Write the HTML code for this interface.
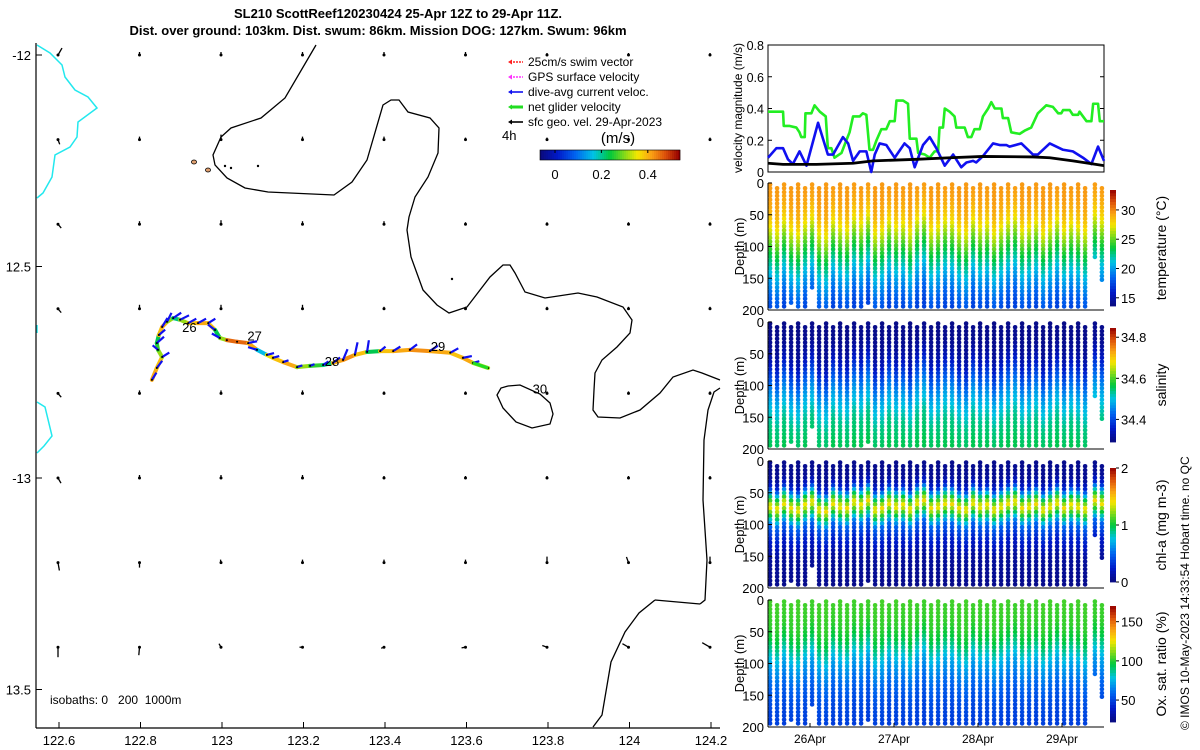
<!DOCTYPE html>
<html><head><meta charset="utf-8">
<style>
html,body{margin:0;padding:0;background:#fff;}
svg{display:block;font-family:"Liberation Sans","DejaVu Sans",sans-serif;}
</style></head>
<body>
<svg id="root" width="1200" height="750" viewBox="0 0 1200 750" xmlns="http://www.w3.org/2000/svg">
<text x="398" y="18" text-anchor="middle" font-size="13" font-weight="bold">SL210 ScottReef120230424 25-Apr 12Z to 29-Apr 11Z.</text>
<text x="378" y="35" text-anchor="middle" font-size="13" font-weight="bold">Dist. over ground: 103km. Dist. swum: 86km. Mission DOG: 127km. Swum: 96km</text>
<g id="map"></g>
<g id="vel"></g>
<g id="prof"></g>
<text transform="translate(1189,730) rotate(-90)" font-size="12">© IMOS 10-May-2023 14:33:54 Hobart time. no QC</text>
</svg>
<script>
// ---------- DATA ----------
const trackLon=[122.828,122.840,122.853,122.843,122.840,122.845,122.853,122.865,122.880,122.897,122.917,122.941,122.966,122.983,122.995,123.012,123.037,123.064,123.086,123.110,123.125,123.150,123.184,123.216,123.248,123.272,123.297,123.326,123.356,123.388,123.420,123.461,123.510,123.560,123.591,123.616,123.653];
const trackLat=[-12.768,-12.740,-12.714,-12.697,-12.681,-12.662,-12.643,-12.631,-12.622,-12.626,-12.634,-12.634,-12.634,-12.650,-12.669,-12.674,-12.678,-12.681,-12.697,-12.709,-12.716,-12.726,-12.738,-12.735,-12.733,-12.728,-12.721,-12.709,-12.702,-12.700,-12.700,-12.697,-12.700,-12.704,-12.716,-12.728,-12.740];
const trackSpeed=[0.40,0.38,0.30,0.25,0.22,0.38,0.40,0.30,0.20,0.30,0.38,0.40,0.38,0.22,0.30,0.45,0.45,0.40,0.15,0.35,0.38,0.40,0.30,0.25,0.20,0.40,0.42,0.38,0.22,0.38,0.40,0.42,0.40,0.38,0.40,0.30,0.22];
const curU=[0.05,0.06,0.08,-0.06,0.08,0.07,0.06,0.05,0.09,0.1,0.09,0.09,0.08,-0.08,-0.09,0.0,0.0,0.1,-0.1,0.08,0.07,0.06,0.06,0.05,0.06,0.08,0.05,0.03,0.02,0.06,0.08,0.08,0.09,0.09,0.1,0.07,0.0];
const curV=[0.08,0.08,0.05,0.05,0.07,0.06,0.1,0.1,0.06,0.05,0.05,0.05,0.05,0.06,0.05,0.0,0.0,0.02,0.03,0.02,0.02,0.02,0.02,0.02,0.04,0.06,0.12,0.14,0.13,0.05,0.05,0.06,0.06,0.05,0.02,0.02,0.0];
const dayLon=[122.92,123.08,123.27,123.53,123.78];
const dayLat=[-12.655,-12.675,-12.735,-12.70,-12.80];
const dayLabels=["26","27","28","29","30"];
const gridLon=[122.6,122.8,123.0,123.2,123.4,123.6,123.8,124.0,124.2];
const gridLat=[-12.0,-12.2,-12.4,-12.6,-12.8,-13.0,-13.2,-13.4];
const geoAngleRow=[[-60,-90,-90,-90,-90,-90,-90,-90,-90],[70,-90,-90,-90,-90,-90,-90,-90,-90],[50,-90,-90,-90,-90,-90,-90,-90,-90],[50,-90,-90,-90,-90,-90,-90,-90,-90],[50,-90,-90,-90,-90,-90,-90,-90,-90],[60,-90,-90,-90,-90,-90,-90,-90,-90],[80,90,-100,-90,-90,-90,-90,-110,-90],[90,95,-120,180,160,170,200,210,210]];
const geoLen=[[8,3,3,3,3,3,2,2,2],[5,3,5,3,3,2,2,2,2],[5,3,4,3,3,2,2,2,2],[5,4,4,4,2,2,2,2,2],[5,3,3,3,2,2,2,2,2],[6,3,3,3,2,2,2,2,2],[8,5,3,3,3,3,6,6,6],[10,8,4,3,3,4,5,7,9]];
const mapXTicks=[122.6,122.8,123,123.2,123.4,123.6,123.8,124,124.2];
const mapXLabels=["122.6","122.8","123","123.2","123.4","123.6","123.8","124","124.2"];
const mapYTicks=[-12,-12.5,-13,-13.5];
const mapYLabels=["-12","12.5","-13","13.5"];

const greenH=[0,4.3,4.5,6.2,8.1,9.0,9.5,10.5,10.7,12.4,13.3,14.8,16.5,17.1,18.1,19.0,21.0,22.4,23.3,24.3,26.2,27.1,28.1,29.0,30.0,31.0,32.4,33.8,34.8,36.2,36.7,38.6,40.0,40.5,42.4,42.9,44.8,46.2,47.6,48.6,49.0,50.0,50.5,51.9,53.3,53.8,56.2,57.1,58.1,59.0,60.5,61.4,62.9,63.8,64.8,66.7,67.1,68.6,69.5,71.9,73.3,75.2,77.1,79.5,81.4,82.9,83.8,84.3,86.2,87.1,88.6,89.0,91.0,92.4,92.9,94.3,94.8,96];
const greenV=[.38,.38,.29,.29,.28,.25,.22,.22,.37,.37,.42,.38,.35,.15,.15,.09,.12,.2,.25,.35,.35,.37,.36,.14,.14,.2,.27,.27,.32,.32,.45,.45,.43,.21,.21,.12,.11,.09,.13,.13,.28,.28,.4,.38,.35,.28,.28,.22,.22,.27,.27,.35,.4,.44,.4,.4,.34,.34,.25,.24,.26,.28,.37,.42,.41,.37,.37,.39,.39,.36,.36,.38,.32,.32,.43,.43,.32,.32];
const blueH=[0,2.4,4.3,5.7,7.1,9.0,11.0,14.3,17.1,18.6,21.4,22.9,24.3,26.2,28.1,29.5,30.5,31.9,33.8,36.2,39.0,40.5,41.9,44.3,46.2,48.1,50.5,52.9,55.2,56.7,58.6,59.5,61.4,64.3,66.2,68.1,69.0,72.4,75.7,77.1,80.5,84.3,87.1,90.0,92.4,94.3,96];
const blueV=[.09,.15,.15,.08,.05,.13,.04,.31,.11,.11,.22,.18,.07,.13,.13,0,.11,.18,.17,.09,.18,.15,.03,.17,.22,.15,.04,.11,.03,.06,.07,.06,.1,.18,.17,.17,.16,.18,.11,.11,.18,.14,.13,.09,.05,.16,.07];
const blackH=[0,4.3,13.8,24.3,30,42.4,52,61.4,75.7,80.5,87.1,96];
const blackV=[.055,.048,.048,.055,.07,.08,.09,.098,.095,.09,.07,.04];
const velTicks=[0,0.2,0.4,0.6,0.8];
const velTickLabels=["0","0.2","0.4","0.6","0.8"];

const colHours=[0.6,2.6,4.6,6.6,8.6,10.6,12.6,14.6,16.6,18.6,20.6,22.6,24.6,26.6,28.6,30.6,32.6,34.6,36.6,38.6,40.6,42.6,44.6,46.6,48.6,50.6,52.6,54.6,56.6,58.6,60.6,62.6,64.6,66.6,68.6,70.6,72.6,74.6,76.6,78.6,80.6,82.6,84.6,86.6,88.6,90.6,93.4,95.4];
const colMaxDepth=[195,195,195,190,195,195,165,195,195,195,195,195,195,195,190,195,195,195,195,195,195,195,195,195,195,195,195,195,195,195,195,195,195,195,195,195,195,195,195,195,195,195,195,195,195,195,115,155];
const colShift=[0,8,-10,5,12,-5,-15,10,15,-10,0,5,-15,-5,-20,10,5,-10,0,-5,8,-12,-20,5,0,-10,-8,5,10,-12,0,-5,10,0,-10,-15,5,0,-8,10,0,-12,5,-5,0,8,-20,-10];
const timeTicks=[12,36,60,84];
const timeLabels=["26Apr","27Apr","28Apr","29Apr"];
const tempDepth=[0,20,40,60,80,100,125,150,175,200];
const tempVal=[29.6,29.5,29.0,28.0,26.2,24.3,22.2,20.2,18.6,17.4];
// salinity as excess above 34 psu
const salDepth=[0,40,60,80,100,120,140,160,200];
const salExcess=[0.30,0.31,0.34,0.39,0.44,0.48,0.51,0.54,0.56];
const chlDepth=[0,25,40,55,70,85,100,125,150,200];
const chlVal=[0.05,0.08,0.3,0.95,1.45,0.95,0.5,0.25,0.1,0.04];
const oxDepth=[0,40,60,80,100,125,150,175,200];
const oxVal=[104,102,96,84,72,62,55,51,49];

// ---------- helpers ----------
const NS="http://www.w3.org/2000/svg";
function mk(tag,attrs,parent){const e=document.createElementNS(NS,tag);for(const k in attrs)e.setAttribute(k,attrs[k]);parent.appendChild(e);return e;}
const stops=[[0,10,10,125],[0.12,0,25,200],[0.25,0,100,240],[0.38,0,195,230],[0.5,0,200,60],[0.62,150,220,20],[0.7,245,230,0],[0.8,250,160,20],[0.9,220,80,10],[1,150,0,0]];
function cmap(t){
  t=Number(t);if(!(t>0))t=0;if(t>1)t=1;
  for(let i=1;i<stops.length;i++){
    if(t<=stops[i][0]){const a=stops[i-1],b=stops[i],f=(t-a[0])/(b[0]-a[0]);
      return 'rgb('+Math.round(a[1]+f*(b[1]-a[1]))+','+Math.round(a[2]+f*(b[2]-a[2]))+','+Math.round(a[3]+f*(b[3]-a[3]))+')';}
  }
  return 'rgb(150,0,0)';
}
function interpNorm(xs,ys,x,lo,hi){
  const n=xs.length;let k=n-1;
  for(let i=1;i<n;i++){if(x<=xs[i]){k=i;break;}}
  const x0=xs[k-1],x1=xs[k];
  let f=(x-x0)/(x1-x0);if(f<0)f=0;if(f>1)f=1;
  const a=(ys[k-1]-lo)/(hi-lo),b=(ys[k]-lo)/(hi-lo);
  return a+f*(b-a);
}

// ---------- MAP ----------
const map=document.getElementById('map');
const lonX=lon=>59+(lon-122.6)*407.5;
const latY=lat=>55+(-12-lat)*423;
function poly(pts,stroke,name,w){const p=mk('polyline',{points:pts.map(q=>q.join(',')).join(' '),fill:'none',stroke:stroke,'stroke-width':w||1.3},map);return p;}
poly([[316,45],[285,98],[261,118],[231,128],[221,137],[213,155],[215,165],[227,178],[245,188],[268,192],[334,195],[352,182],[367,160],[383,105],[391,100],[399,100],[408,112],[430,118],[439,128],[438,153],[428,177],[415,197],[409,217],[407,230],[411,257],[423,290],[437,305],[449,313],[467,307],[490,277],[503,265],[510,265],[515,273],[525,292],[545,298],[578,293],[597,297],[623,307],[632,320],[630,333],[617,347],[602,360],[595,373],[594,390],[593,410],[598,417],[620,418],[640,410],[660,393],[673,377],[693,370],[702,373],[720,380]],'#000','isobath-200m');
poly([[720,388],[714,392],[708,410],[704,440],[703,500],[707,560],[705,600],[700,604]],'#000','isobath-200m-east');
poly([[655,600],[639,613],[625,632],[611,662],[602,715],[593,727]],'#000','isobath-1000m');
poly([[655,600],[700,604]],'#000','isobath-link');
poly([[508,386],[520,385],[540,394],[550,403],[553,414],[550,424],[532,428],[516,422],[503,408],[497,395],[501,388],[508,386]],'#000','reef-contour');
poly([[37,45],[50,53],[62,65],[65,77],[75,90],[88,97],[97,108],[78,122],[77,137],[70,147],[55,155],[52,177],[43,193],[37,198]],'#22e8ee','isobath-0m-north',1.5);
poly([[37,402],[45,407],[52,436],[44,446],[37,453]],'#22e8ee','isobath-0m-south',1.5);
poly([[37,325],[37,333]],'#22e8ee','isobath-0m-mid',1.5);
[[194,162,'#e0a070'],[208,170,'#e0a070']].forEach(c=>{const e=mk('ellipse',{cx:c[0],cy:c[1],rx:2.5,ry:2,fill:c[2],stroke:'#000','stroke-width':0.8},map);});
[[225,166],[231,168],[258,166],[452,279]].forEach(c=>{const e=mk('circle',{cx:c[0],cy:c[1],r:1.2,fill:'#000'},map);});
for(let r=0;r<gridLat.length;r++)for(let c=0;c<gridLon.length;c++){
  const x=lonX(gridLon[c])-1,y=latY(gridLat[r]);const a=geoAngleRow[r][c]*Math.PI/180,L=geoLen[r][c];
  const g=mk('g',{},map);
  mk('line',{x1:x,y1:y,x2:x+L*Math.cos(a),y2:y+L*Math.sin(a),stroke:'#000','stroke-width':1.3},g);
  mk('circle',{cx:x,cy:y,r:1.5,fill:'#000'},g);
}
const tg=mk('g',{},map);
for(let i=0;i<trackLon.length-1;i++){
  const x=lonX(trackLon[i]),y=latY(trackLat[i]);
  const l=mk('line',{x1:x,y1:y,x2:lonX(trackLon[i+1]),y2:latY(trackLat[i+1]),stroke:cmap(trackSpeed[i]/0.6+0.12),'stroke-width':4,'stroke-linecap':'round'},tg);
}
for(let i=0;i<trackLon.length;i++){
  const x=lonX(trackLon[i]),y=latY(trackLat[i]);
  const v=mk('line',{x1:x,y1:y,x2:x+curU[i]*90,y2:y-curV[i]*90,stroke:'#1010f0','stroke-width':2.2},tg);
  
  const d=mk('circle',{cx:x,cy:y,r:1,fill:'#000'},tg);
}
const endN=trackLon.length-1;
const gv=mk('line',{x1:lonX(trackLon[endN-1]),y1:latY(trackLat[endN-1]),x2:lonX(trackLon[endN]),y2:latY(trackLat[endN]),stroke:'#22dd22','stroke-width':3},tg);

for(let i=0;i<dayLabels.length;i++){const t=mk('text',{x:lonX(dayLon[i]),y:latY(dayLat[i]),'font-size':13,'text-anchor':'middle'},map);t.textContent=dayLabels[i];}
mk('line',{x1:36,y1:43,x2:36,y2:728,stroke:'#000','stroke-width':1.2},map);
mk('line',{x1:36,y1:728,x2:720,y2:728,stroke:'#000','stroke-width':1.2},map);
for(let i=0;i<mapXTicks.length;i++){const x=lonX(mapXTicks[i]);mk('line',{x1:x,y1:728,x2:x,y2:722,stroke:'#000'},map);const t=mk('text',{x:x,y:745,'font-size':13,'text-anchor':'middle'},map);t.textContent=mapXLabels[i];}
for(let i=0;i<mapYTicks.length;i++){const y=latY(mapYTicks[i]);mk('line',{x1:36,y1:y,x2:42,y2:y,stroke:'#000'},map);const t=mk('text',{x:31,y:y+5,'font-size':13,'text-anchor':'end'},map);t.textContent=mapYLabels[i];}
const iso=mk('text',{x:50,y:704,'font-size':12},map);iso.textContent='isobaths: 0\u00a0\u00a0\u00a0200\u00a0\u00a01000m';
const leg=mk('g',{},map);
const legItems=[['25cm/s swim vector','#ff2020'],['GPS surface velocity','#ff30ff'],['dive-avg current veloc.','#1010f0'],['net glider velocity','#22dd22'],['sfc geo. vel. 29-Apr-2023','#000']];
legItems.forEach((it,i)=>{const y=66+i*15;const g=mk('g',{},leg);
 mk('line',{x1:510,y1:y-4,x2:510+13,y2:y-4,stroke:it[1],'stroke-width':i==3?3:1.6,'stroke-dasharray':i<2?'2 1':'none'},g);
 mk('path',{d:`M${508},${y-4} l4,-2.5 l0,5 z`,fill:it[1]},g);
 const t=mk('text',{x:528,y:y,'font-size':12},g);t.textContent=it[0];});
const h4=mk('text',{x:502,y:140,'font-size':13},map);h4.textContent='4h';
const ms=mk('text',{x:618,y:143,'font-size':15,'text-anchor':'middle'},map);ms.textContent='(m/s)';
const cbg=mk('g',{},map);
for(let i=0;i<70;i++)mk('rect',{x:540+i*2,y:150,width:2.2,height:10,fill:cmap(i/69)},cbg);
mk('rect',{x:540,y:150,width:140,height:10,fill:'none',stroke:'#000','stroke-width':0.6},cbg);
[[0,'0'],[0.2,'0.2'],[0.4,'0.4']].forEach(a=>{const x=555+a[0]*232;mk('line',{x1:x,y1:150,x2:x,y2:153,stroke:'#000'},cbg);const t=mk('text',{x:x,y:179,'font-size':13,'text-anchor':'middle'},cbg);t.textContent=a[1];});

// ---------- VELOCITY PANEL ----------
const vel=document.getElementById('vel');
const hX=h=>768+h*3.5;
const vY=v=>172-v/0.8*127;
mk('rect',{x:768,y:45,width:336,height:127,fill:'none',stroke:'#000','stroke-width':1},vel);
function vline(H,V,c,name,w){const p=mk('polyline',{points:H.map((h,i)=>hX(h)+','+vY(V[i])).join(' '),fill:'none',stroke:c,'stroke-width':w,'stroke-linejoin':'round'},vel);}
vline(greenH,greenV,'#22ee22','net-glider-speed-line',2.6);
vline(blueH,blueV,'#1010f0','dive-avg-current-line',2.6);
vline(blackH,blackV,'#000','geo-velocity-line',2.8);
velTicks.forEach((v,i)=>{const y=vY(v);mk('line',{x1:768,y1:y,x2:772,y2:y,stroke:'#000'},vel);mk('line',{x1:1104,y1:y,x2:1100,y2:y,stroke:'#000'},vel);const t=mk('text',{x:764,y:y+5,'font-size':12.5,'text-anchor':'end'},vel);t.textContent=velTickLabels[i];});
const vt=mk('text',{transform:'translate(742,108) rotate(-90)','font-size':12,'text-anchor':'middle'},vel);vt.textContent='velocity magnitude (m/s)';

// ---------- PROFILE PANELS ----------
const prof=document.getElementById('prof');
const panels=[
 {name:'temperature',top:183,depths:tempDepth,vals:tempVal,lo:13.6,hi:33.4,cbTop:190,cbBot:306,ticks:[15,20,25,30],labels:['15','20','25','30'],title:'temperature (°C)',shift:1},
 {name:'salinity',top:322,depths:salDepth,vals:salExcess,lo:0.29,hi:0.845,cbTop:328,cbBot:442,ticks:[0.4,0.6,0.8],labels:['34.4','34.6','34.8'],title:'salinity',shift:1},
 {name:'chlorophyll',top:461,depths:chlDepth,vals:chlVal,lo:0,hi:2,cbTop:468,cbBot:582,ticks:[0,1,2],labels:['0','1','2'],title:'chl-a (mg m-3)',shift:0.5},
 {name:'oxygen',top:600,depths:oxDepth,vals:oxVal,lo:22,hi:170,cbTop:606,cbBot:722,ticks:[50,100,150],labels:['50','100','150'],title:'Ox. sat. ratio (%)',shift:0.8}
];
panels.forEach((P,pi)=>{
 const g=mk('g',{},prof);
 const H=127;const dY=d=>P.top+d/200*H;
 for(let c=0;c<colHours.length;c++){
  const x=hX(colHours[c]);const start=(c%2==0)?0:6;
  for(let d=start;d<=colMaxDepth[c];d+=6){
   let dd=d-colShift[c]*P.shift;if(dd<0)dd=0;
   const tn=interpNorm(P.depths,P.vals,dd,P.lo,P.hi);
   mk('circle',{cx:x,cy:dY(d)+1.5,r:2.3,fill:cmap(tn)},g);
  }
 }
 mk('line',{x1:768,y1:P.top,x2:768,y2:P.top+H,stroke:'#000'},g);
 mk('line',{x1:768,y1:P.top+H,x2:1104,y2:P.top+H,stroke:'#000'},g);
 [0,50,100,150,200].forEach(d=>{const t=mk('text',{x:764,y:dY(d)+5,'font-size':13,'text-anchor':'end'},g);t.textContent=String(d);mk('line',{x1:768,y1:dY(d),x2:772,y2:dY(d),stroke:'#000'},g);});
 const dt=mk('text',{transform:`translate(744,${P.top+H/2}) rotate(-90)`,'font-size':13,'text-anchor':'middle'},g);dt.textContent='Depth (m)';
 const cb=mk('g',{},g);
 const n=40,hh=(P.cbBot-P.cbTop)/n;
 for(let i=0;i<n;i++)mk('rect',{x:1110,y:P.cbBot-(i+1)*hh,width:6,height:hh+0.4,fill:cmap((i+0.5)/n)},cb);
 P.ticks.forEach((tv,i)=>{const y=P.cbBot-(tv-P.lo)/(P.hi-P.lo)*(P.cbBot-P.cbTop);mk('line',{x1:1116,y1:y,x2:1119,y2:y,stroke:'#000'},cb);const t=mk('text',{x:1121,y:y+5,'font-size':13},cb);t.textContent=P.labels[i];});
 const ct=mk('text',{transform:`translate(1166,${(P.cbTop+P.cbBot)/2}) rotate(-90)`,'font-size':14,'text-anchor':'middle'},g);ct.textContent=P.title;
 if(pi==3){timeTicks.forEach((h,i)=>{mk('line',{x1:hX(h),y1:P.top+H,x2:hX(h),y2:P.top+H-4,stroke:'#000'},g);const t=mk('text',{x:hX(h),y:743,'font-size':12,'text-anchor':'middle'},g);t.textContent=timeLabels[i];});}
});
</script>
</body></html>
